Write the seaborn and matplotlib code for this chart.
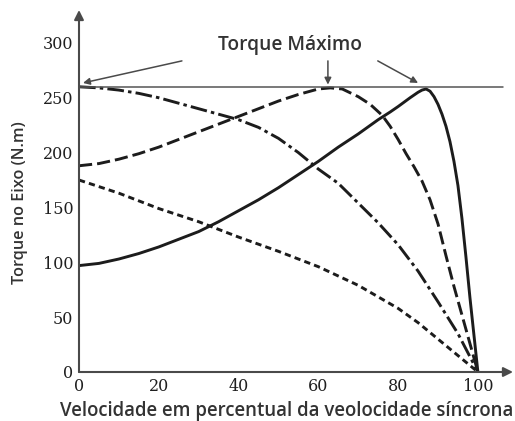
import numpy as np
import pandas as pd
import matplotlib
matplotlib.use("Agg")
import matplotlib.pyplot as plt
import seaborn as sns

# curve readings (x = % of synchronous speed, y = torque N.m)
x_solid = [0, 5, 10, 15, 20, 25, 30, 35, 40, 45, 50, 55, 60, 65, 70, 75, 78, 80, 83, 85,
           86, 87, 88, 89, 90, 91, 92, 93, 94, 95, 96, 97, 98, 99, 100]
y_solid = [97, 99, 103, 108, 114, 121, 128, 137, 147, 157, 168, 180, 192, 205, 217, 230, 237, 242, 250, 255,
           257, 258, 256, 251, 244, 235, 224, 210, 192, 170, 140, 105, 68, 34, 0]

x_dashed = [0, 5, 10, 15, 20, 25, 30, 35, 40, 45, 50, 55, 60, 63, 66, 70, 73, 76, 78, 80,
            82, 84, 86, 88, 90, 92, 94, 96, 98, 100]
y_dashed = [188, 190, 194, 199, 205, 212, 219, 226, 233, 240, 247, 253, 258, 259, 258, 251, 244, 234, 224, 212,
            199, 187, 174, 157, 135, 106, 78, 52, 26, 0]

x_dashdot = [0, 5, 10, 15, 20, 25, 30, 35, 40, 45, 50, 55, 60, 65, 70, 75, 80, 85, 90, 95, 100]
y_dashdot = [260, 259, 257, 254, 250, 245, 240, 235, 230, 223, 213, 200, 185, 172, 154, 136, 116, 92, 64, 35, 0]

x_dotted = [0, 10, 20, 30, 40, 50, 60, 70, 80, 85, 90, 95, 100]
y_dotted = [175, 163, 149, 137, 123, 110, 96, 79, 58, 45, 30, 15, 0]

max_torque = 260
x_ticks = [0, 20, 40, 60, 80, 100]
y_ticks = [0, 50, 100, 150, 200, 250, 300]

sns.set_style("white")
plt.rcParams["lines.scale_dashes"] = False

fig = plt.figure(figsize=(5.15, 4.21), dpi=100)
ax = fig.add_axes([79/515, 49/421, 434/515, 362/421])

ink = "#1c1c1c"
grey = "#4a4a4a"
lw = 2.1
sns.lineplot(x=x_solid, y=y_solid, ax=ax, color=ink, lw=lw, sort=False)
sns.lineplot(x=x_dashed, y=y_dashed, ax=ax, color=ink, lw=lw, sort=False, linestyle=(0, (9.5, 3.6)))
sns.lineplot(x=x_dashdot, y=y_dashdot, ax=ax, color=ink, lw=lw, sort=False, linestyle=(0, (12, 3, 2.5, 3)))
sns.lineplot(x=x_dotted, y=y_dotted, ax=ax, color=ink, lw=lw, sort=False, linestyle=(0, (4.5, 3)))

# max torque line
ax.plot([0, 106.3], [max_torque, max_torque], color="#555555", lw=1.1)

ax.set_xlim(0, 108.8)
ax.set_ylim(0, 330)
for s in ax.spines.values():
    s.set_visible(False)

# axes with arrows
ax.annotate("", xy=(1, 0), xytext=(0, 0), xycoords="axes fraction",
            arrowprops=dict(arrowstyle="-|>", color=grey, lw=1.5, mutation_scale=14, shrinkA=0, shrinkB=0))
ax.annotate("", xy=(0, 1), xytext=(0, 0), xycoords="axes fraction",
            arrowprops=dict(arrowstyle="-|>", color=grey, lw=1.5, mutation_scale=14, shrinkA=0, shrinkB=0))

ax.set_xticks(x_ticks)
ax.set_yticks(y_ticks)
ax.tick_params(direction="in", length=8.5, width=1.3, color=grey, labelcolor="#1f1f1f", pad=4)
for lab in ax.get_xticklabels() + ax.get_yticklabels():
    lab.set_fontfamily("DejaVu Serif")
    lab.set_fontsize(11.5)

ax.text(52.9, 298, "Torque Máximo", ha="center", va="center",
        fontsize=13.8, family="Open Sans", weight="semibold", color="#333333")
arrow_kw = dict(arrowstyle="-|>", color=grey, lw=1.1, mutation_scale=10, shrinkA=0, shrinkB=0)
ax.annotate("", xy=(1, 263.5), xytext=(25.8, 283.6), arrowprops=arrow_kw)
ax.annotate("", xy=(62.4, 262), xytext=(62.4, 283.6), arrowprops=arrow_kw)
ax.annotate("", xy=(85, 263.5), xytext=(74.9, 283.6), arrowprops=arrow_kw)

fig.text(287/515, 1 - 411/421, "Velocidade em percentual da veolocidade síncrona",
         ha="center", va="center", fontsize=13.4, family="Open Sans", weight="semibold", color="#333333")
fig.text(20/515, 1 - 203/421, "Torque no Eixo (N.m)", rotation=90,
         ha="center", va="center", fontsize=11.7, family="Open Sans", weight="semibold", color="#333333")

fig.savefig("out.png", dpi=100)
